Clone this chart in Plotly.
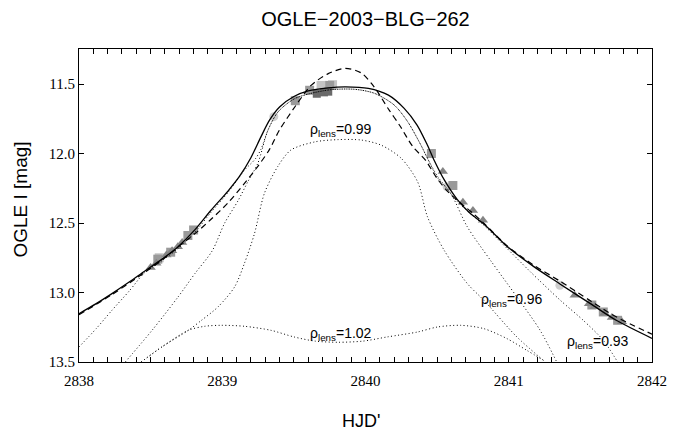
import plotly.graph_objects as go

# ---------------- data ----------------
title_text = "OGLE\u22122003\u2212BLG\u2212262"
x_ticks = [2838, 2839, 2840, 2841, 2842]
y_ticks = [11.5, 12.0, 12.5, 13.0, 13.5]
y_tick_text = ["11.5", "12.0", "12.5", "13.0", "13.5"]

# best-fit (solid)
sol_t = [2838.00, 2838.12, 2838.23, 2838.35, 2838.46, 2838.58, 2838.69, 2838.81, 2838.92,
         2839.04, 2839.12, 2839.20, 2839.27, 2839.33, 2839.40, 2839.50, 2839.60, 2839.74,
         2839.86, 2840.02, 2840.16, 2840.27, 2840.36, 2840.43, 2840.48, 2840.55, 2840.64,
         2840.73, 2840.83, 2840.99, 2841.17, 2841.36, 2841.57, 2841.75, 2842.00]
sol_m = [13.152, 13.08, 13.008, 12.925, 12.845, 12.76, 12.672, 12.548, 12.41,
         12.27, 12.165, 12.03, 11.88, 11.76, 11.665, 11.59, 11.55, 11.527,
         11.52, 11.531, 11.58, 11.675, 11.795, 11.935, 12.05, 12.19, 12.33,
         12.43, 12.51, 12.67, 12.81, 12.94, 13.08, 13.20, 13.33]

# point-source model (dashed)
das_t = [2838.00, 2838.23, 2838.46, 2838.60, 2838.70, 2838.81, 2838.92, 2839.04, 2839.155,
         2839.25, 2839.33, 2839.40, 2839.51, 2839.62, 2839.74, 2839.86, 2839.97, 2840.06,
         2840.16, 2840.24, 2840.33, 2840.42, 2840.50, 2840.58, 2840.65, 2840.75, 2840.83,
         2840.99, 2841.17, 2841.36, 2841.57, 2841.75, 2842.00]
das_m = [13.16, 13.015, 12.855, 12.75, 12.665, 12.576, 12.475, 12.355, 12.215,
         12.09, 11.97, 11.83, 11.66, 11.51, 11.425, 11.387, 11.42, 11.52,
         11.68, 11.80, 11.95, 12.05, 12.18, 12.28, 12.345, 12.43, 12.505,
         12.665, 12.80, 12.92, 13.06, 13.175, 13.30]

# rho_lens = 0.93
r093_t = [2838.00, 2838.12, 2838.23, 2838.35, 2838.46, 2838.58, 2838.69, 2838.81, 2838.92,
          2839.04, 2839.155, 2839.23, 2839.27, 2839.32, 2839.39, 2839.51, 2839.74, 2839.925,
          2840.063, 2840.20, 2840.295, 2840.387, 2840.433, 2840.50, 2840.56, 2840.64, 2840.83,
          2840.99, 2841.15, 2841.36, 2841.52, 2841.66, 2841.76]
r093_m = [13.392, 13.26, 13.128, 12.99, 12.855, 12.77, 12.685, 12.565, 12.425,
          12.28, 12.12, 12.04, 11.97, 11.83, 11.70, 11.603, 11.543, 11.538,
          11.567, 11.651, 11.772, 11.94, 12.035, 12.16, 12.24, 12.345, 12.52,
          12.685, 12.85, 13.056, 13.20, 13.344, 13.50]

# rho_lens = 0.96
r096_t = [2838.323, 2838.51, 2838.693, 2838.809, 2838.93, 2839.017, 2839.11, 2839.178, 2839.248,
          2839.32, 2839.39, 2839.51, 2839.74, 2839.925, 2840.063, 2840.20, 2840.295, 2840.387,
          2840.433, 2840.50, 2840.595, 2840.711, 2840.872, 2841.057, 2841.219, 2841.335]
r096_m = [13.50, 13.272, 13.03, 12.864, 12.70, 12.50, 12.34, 12.204, 12.071,
          11.83, 11.70, 11.603, 11.543, 11.538, 11.567, 11.651, 11.772, 11.94,
          12.035, 12.17, 12.287, 12.528, 12.768, 13.032, 13.272, 13.50]

# rho_lens = 0.99
r099_t = [2838.434, 2838.578, 2838.763, 2838.855, 2838.97, 2839.086, 2839.155, 2839.225, 2839.294,
          2839.386, 2839.479, 2839.648, 2839.81, 2839.971, 2840.11, 2840.25, 2840.364, 2840.433,
          2840.549, 2840.711, 2840.826, 2841.057, 2841.242]
r099_m = [13.50, 13.392, 13.272, 13.20, 13.104, 12.96, 12.79, 12.576, 12.287,
          12.096, 11.975, 11.916, 11.90, 11.903, 11.94, 12.035, 12.204, 12.456,
          12.696, 12.936, 13.056, 13.32, 13.488]

# rho_lens = 1.02
r102_t = [2838.434, 2838.578, 2838.763, 2838.878, 2838.994, 2839.155, 2839.34, 2839.502, 2839.65,
          2839.81, 2839.98, 2840.15, 2840.364, 2840.503, 2840.664, 2840.826, 2840.988, 2841.126,
          2841.242]
r102_m = [13.50, 13.392, 13.272, 13.243, 13.236, 13.243, 13.272, 13.32, 13.35,
          13.358, 13.35, 13.32, 13.284, 13.248, 13.236, 13.26, 13.332, 13.416,
          13.488]

# observations
tri_t = [2838.50, 2838.54, 2838.61, 2838.65, 2838.69, 2838.72, 2840.54, 2840.68, 2840.75,
         2840.82, 2841.46, 2841.56, 2841.60, 2841.67, 2841.72, 2841.79]
tri_m = [12.82, 12.79, 12.73, 12.70, 12.67, 12.64, 12.13, 12.35, 12.41,
         12.48, 13.02, 13.08, 13.10, 13.15, 13.18, 13.21]
sq_t = [2838.55, 2838.64, 2838.76, 2838.80, 2839.51, 2839.61, 2839.75, 2840.46, 2840.61,
        2841.58, 2841.66, 2841.76]
sq_m = [12.76, 12.71, 12.59, 12.55, 11.62, 11.545, 11.51, 12.00, 12.23,
        13.09, 13.14, 13.20]
lsq_t = [2838.56, 2839.69, 2839.77]
lsq_m = [12.75, 11.51, 11.505]
dsq_t = [2839.66, 2839.71, 2839.74]
dsq_m = [11.57, 11.56, 11.555]
circ_t = [2839.36, 2840.57, 2841.357]
circ_m = [11.735, 12.24, 12.948]

labels = ["\u03c1<sub>lens</sub>=0.99", "\u03c1<sub>lens</sub>=0.96",
          "\u03c1<sub>lens</sub>=0.93", "\u03c1<sub>lens</sub>=1.02"]
label_t = [2839.83, 2841.02, 2841.626, 2839.83]
label_m = [11.831, 13.056, 13.358, 13.30]

# ---------------- figure ----------------
fig = go.Figure()

def add_markers(t, m, symbol, color, size):
    fig.add_trace(go.Scatter(x=t, y=m, mode="markers",
                             marker=dict(symbol=symbol, color=color, size=size,
                                         line=dict(width=0))))

add_markers(circ_t, circ_m, "circle", "#cfcfcf", 9)
add_markers(lsq_t, lsq_m, "square", "#c4c4c4", 9)
add_markers(sq_t, sq_m, "square", "#9a9a9a", 9)
add_markers(dsq_t, dsq_m, "square", "#6a6a6a", 8)
add_markers(tri_t, tri_m, "triangle-up", "#858585", 9)

def add_line(t, m, dash, width):
    fig.add_trace(go.Scatter(x=t, y=m, mode="lines",
                             line=dict(color="black", width=width, dash=dash,
                                       shape="spline", smoothing=0.8)))

add_line(r093_t, r093_m, "1px,2.5px", 1)
add_line(r096_t, r096_m, "1px,2.5px", 1)
add_line(r099_t, r099_m, "1px,2.5px", 1)
add_line(r102_t, r102_m, "1px,2.5px", 1)
add_line(das_t, das_m, "6px,4px", 1.2)
add_line(sol_t, sol_m, "solid", 1.3)

for txt, lt, lm in zip(labels, label_t, label_m):
    fig.add_annotation(x=lt, y=lm, xref="x", yref="y", text=txt, showarrow=False,
                       font=dict(family="Liberation Sans", size=14, color="black"),
                       xanchor="center", yanchor="middle", bgcolor="rgba(0,0,0,0)")

# page body has an 8px margin: figure is sized/margined so the plot box lands
# at x 79..656, y 49..362 in the window
fig.add_annotation(x=0.492, y=-0.1885, xref="paper", yref="paper", text="HJD'",
                   showarrow=False, xanchor="center", yanchor="middle",
                   font=dict(family="Liberation Sans", size=18, color="black"))
fig.add_annotation(x=-0.102, y=0.5176, xref="paper", yref="paper", text="OGLE I [mag]",
                   showarrow=False, xanchor="center", yanchor="middle", textangle=-90,
                   font=dict(family="Liberation Sans", size=19, color="black"))

fig.update_layout(
    width=671, height=423,
    margin=dict(l=71, r=23, t=41, b=69),
    paper_bgcolor="white", plot_bgcolor="white",
    showlegend=False,
    title=dict(text=title_text, x=0.5, xanchor="center", xref="paper",
               y=1 - 10.5 / 423, yanchor="middle", yref="container",
               font=dict(family="Liberation Sans", size=20, color="black")),
)

fig.update_xaxes(range=[2838, 2842], tickvals=x_ticks, ticktext=[str(v) for v in x_ticks],
                 ticks="inside", ticklen=5, tickwidth=1, tickcolor="black",
                 ticklabelstandoff=5,
                 showline=True, linecolor="black", linewidth=1, mirror="allticks",
                 showgrid=False, zeroline=False,
                 tickfont=dict(family="Liberation Serif", size=15, color="black"),
                 minor=dict(dtick=0.1, tick0=2838, ticks="inside", ticklen=5,
                            tickwidth=1, tickcolor="black", showgrid=False))
fig.update_yaxes(range=[13.5, 11.248], tickvals=y_ticks, ticktext=y_tick_text,
                 ticks="inside", ticklen=5, tickwidth=1, tickcolor="black",
                 showline=True, linecolor="black", linewidth=1, mirror="allticks",
                 showgrid=False, zeroline=False,
                 tickfont=dict(family="Liberation Serif", size=15, color="black"))

fig.write_html("out.html")
